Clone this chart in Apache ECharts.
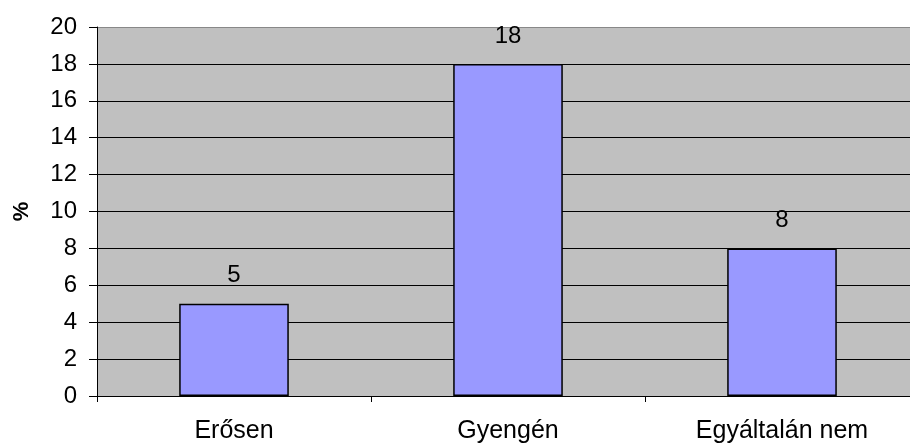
<!DOCTYPE html>
<html><head><meta charset="utf-8">
<script src="https://cdn.jsdelivr.net/npm/echarts@6/dist/echarts.min.js"></script>
<style>html,body{margin:0;padding:0;background:#fff}#c{width:910px;height:446px}</style>
</head><body><div id="c"></div>
<script>
const categories = ['Erősen', 'Gyengén', 'Egyáltalán nem'];
const values = [5, 18, 8];
const yTicks = [0, 2, 4, 6, 8, 10, 12, 14, 16, 18, 20];
const yName = '%';

const chart = echarts.init(document.getElementById('c'));
const lineColors = yTicks.map((t, i) => i === yTicks.length - 1 ? '#888888' : '#000000');
chart.setOption({
  animation: false,
  textStyle: { fontFamily: 'Liberation Sans, Arial, sans-serif' },
  grid: { left: 97, width: 822, top: 27, height: 369, show: true, backgroundColor: '#C0C0C0', borderWidth: 0,
          containLabel: false, outerBoundsMode: 'none' },
  xAxis: {
    type: 'category', data: categories,
    axisLine: { lineStyle: { color: '#000', width: 1 } },
    axisTick: { show: true, length: 6, lineStyle: { color: '#000' } },
    axisLabel: { color: '#000', fontSize: 25, margin: 23 }
  },
  yAxis: {
    type: 'value', min: yTicks[0], max: yTicks[yTicks.length - 1], interval: 2,
    name: yName, nameLocation: 'middle', nameGap: 64,
    nameTextStyle: { fontSize: 22, fontWeight: 'bold', color: '#000' },
    axisLine: { show: true, lineStyle: { color: '#000', width: 1 } },
    axisTick: { show: true, length: 8, lineStyle: { color: '#000' } },
    axisLabel: { color: '#000', fontSize: 24, margin: 20 },
    splitLine: { show: true, lineStyle: { color: lineColors, width: 1 } }
  },
  series: [{
    type: 'bar', data: values, barWidth: '40%',
    itemStyle: { color: '#9999FF', borderColor: '#000', borderWidth: 1.5 },
    label: { show: true, position: 'top', distance: 16, color: '#000', fontSize: 24 }
  }]
});
</script></body></html>
